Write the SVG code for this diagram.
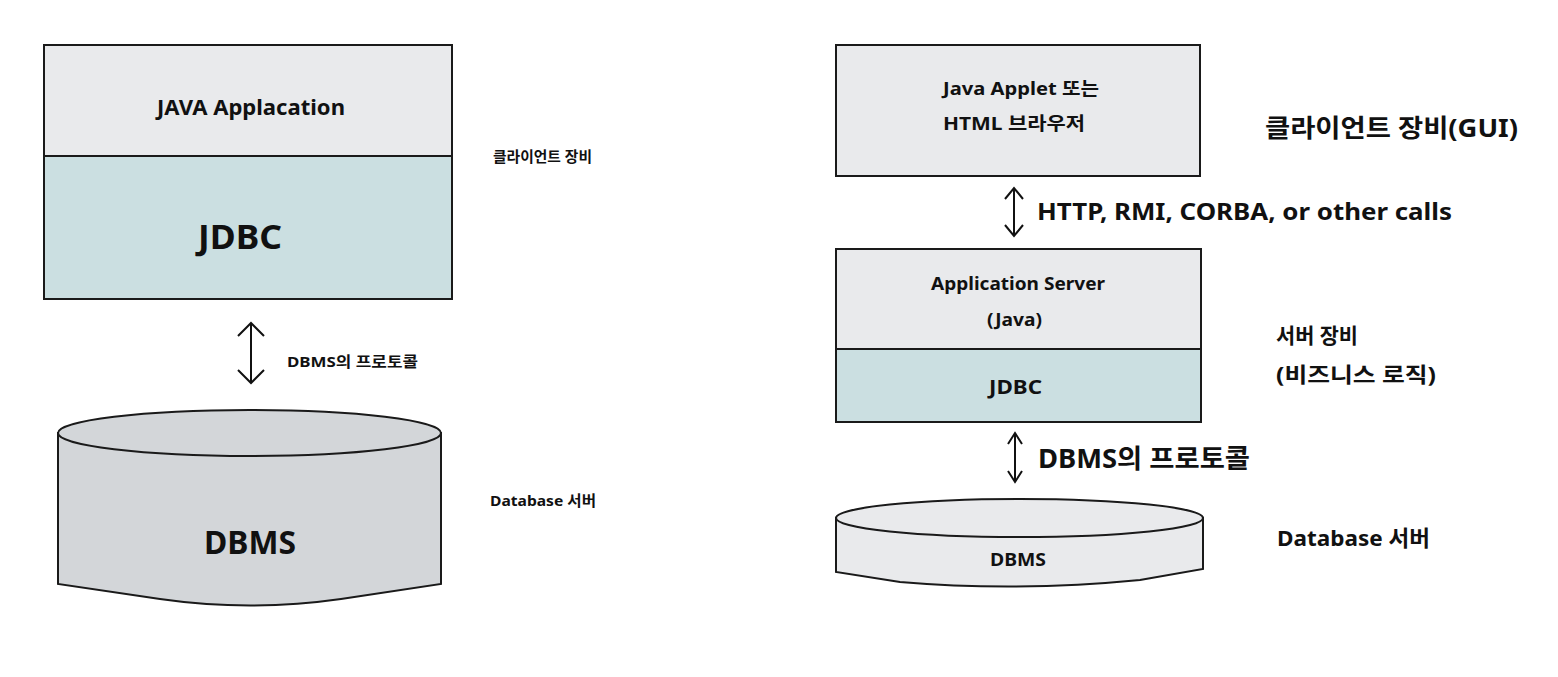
<svg xmlns="http://www.w3.org/2000/svg" width="1558" height="677" viewBox="0 0 1558 677">
<style>
text{font-family:"Noto Sans","Noto Sans CJK KR",sans-serif;font-weight:700;fill:#111}
.box{stroke:#1a1a1a;stroke-width:2}
.lite{fill:#e9eaec}
.teal{fill:#cbdfe1}
.grey{fill:#d3d6d9}
.ar{fill:none;stroke:#111;stroke-width:2}
</style>
<rect width="1558" height="677" fill="#fff"/>
<g id="left-app">
<rect class="box lite" x="44" y="45" width="408" height="111"/>
<rect class="box teal" x="44" y="156" width="408" height="143"/>
<text x="157" y="115" font-size="21" textLength="188" lengthAdjust="spacingAndGlyphs">JAVA Applacation</text>
<text x="198" y="249" font-size="34" textLength="84" lengthAdjust="spacingAndGlyphs">JDBC</text>
</g>
<g id="left-db">
<path class="box grey" d="M58,433 L58,584 L160,599 Q250,612 341,599 L441,584 L441,433 Z"/>
<ellipse class="box grey" cx="249.5" cy="433" rx="191.5" ry="23"/>
<text x="204" y="554" font-size="33" textLength="92" lengthAdjust="spacingAndGlyphs">DBMS</text>
</g>
<g id="right-client">
<rect class="box lite" x="836" y="45" width="364" height="131"/>
<text x="943" y="95" font-size="18" textLength="156" lengthAdjust="spacingAndGlyphs">Java Applet 또는</text>
<text x="943" y="130" font-size="18" textLength="142" lengthAdjust="spacingAndGlyphs">HTML 브라우저</text>
</g>
<g id="right-server">
<rect class="box lite" x="836" y="249" width="365" height="100"/>
<rect class="box teal" x="836" y="349" width="365" height="73"/>
<text x="931" y="290" font-size="18" textLength="174" lengthAdjust="spacingAndGlyphs">Application Server</text>
<text x="987" y="326" font-size="18" textLength="55" lengthAdjust="spacingAndGlyphs">(Java)</text>
<text x="989" y="394" font-size="20" textLength="53" lengthAdjust="spacingAndGlyphs">JDBC</text>
</g>
<g id="right-db">
<path class="box lite" d="M836,518 L836,572 L900,582 Q1018,592 1140,580 L1203,569 L1203,518 Z"/>
<ellipse class="box lite" cx="1019.5" cy="518" rx="183.5" ry="19"/>
<text x="990" y="566" font-size="18" textLength="56" lengthAdjust="spacingAndGlyphs">DBMS</text>
</g>
<g id="labels">
<text x="493" y="162" font-size="15" textLength="99" lengthAdjust="spacingAndGlyphs">클라이언트 장비</text>
<text x="490" y="506" font-size="15" textLength="106" lengthAdjust="spacingAndGlyphs">Database 서버</text>
<text x="287" y="367" font-size="15" textLength="131" lengthAdjust="spacingAndGlyphs">DBMS의 프로토콜</text>
<text x="1265" y="137" font-size="25" textLength="253" lengthAdjust="spacingAndGlyphs">클라이언트 장비(GUI)</text>
<text x="1037" y="220" font-size="24" textLength="415" lengthAdjust="spacingAndGlyphs">HTTP, RMI, CORBA, or other calls</text>
<text x="1276" y="343" font-size="21" textLength="82" lengthAdjust="spacingAndGlyphs">서버 장비</text>
<text x="1276" y="382" font-size="21" textLength="160" lengthAdjust="spacingAndGlyphs">(비즈니스 로직)</text>
<text x="1038" y="468" font-size="26" textLength="212" lengthAdjust="spacingAndGlyphs">DBMS의 프로토콜</text>
<text x="1277" y="546" font-size="22" textLength="153" lengthAdjust="spacingAndGlyphs">Database 서버</text>
</g>
<g id="connectors">
<path class="ar" d="M251,323 L251,383 M238,336 L251,323 L264,336 M238,370 L251,383 L264,370"/>
<path class="ar" d="M1014,188 L1014,236 M1005,199 L1014,188 L1023,199 M1005,225 L1014,236 L1023,225"/>
<path class="ar" d="M1015,433 L1015,482 M1008,444 L1015,433 L1022,444 M1008,471 L1015,482 L1022,471"/>
</g>
</svg>
